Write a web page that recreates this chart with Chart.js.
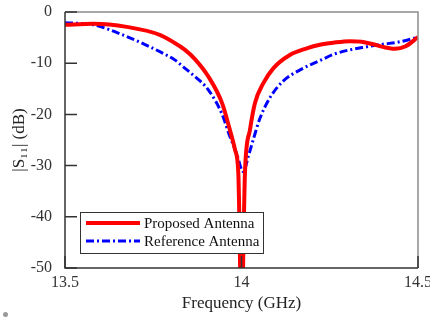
<!DOCTYPE html>
<html>
<head>
<meta charset="utf-8">
<script src="https://cdn.jsdelivr.net/npm/chart.js@4"></script>
<style>
    body { margin: 0; background: #fff; overflow: hidden; }
    #wrap { position: relative; width: 430px; height: 318px; }
    #dot { position: absolute; left: 3px; top: 312px; width: 5px; height: 5px; border-radius: 50%; background: #999; }
</style>
</head>
<body>
<div id="wrap">
    <canvas id="s11Chart" width="430" height="318"></canvas>
    <div id="dot"></div>
</div>
<script>
// frequency points (GHz) and |S11| values (dB)
const freqProposed = [13.50, 13.58, 13.675, 13.77, 13.812, 13.84, 13.868, 13.906, 13.945, 13.967, 13.982, 13.991, 14.00,
    14.01, 14.024, 14.038, 14.062, 14.09, 14.137, 14.185, 14.222, 14.26, 14.307, 14.34, 14.373, 14.405, 14.435, 14.465, 14.50];
const s11Proposed = [-2.5, -2.3, -2.9, -4.5, -6.1, -7.4, -9.2, -12.6, -17.8, -23.0, -27.0, -31.5, -60.0,
    -31.0, -23.0, -17.8, -13.9, -11.0, -8.4, -7.1, -6.4, -6.0, -5.7, -5.8, -6.3, -6.9, -7.2, -6.7, -4.9];

const freqReference = [13.50, 13.58, 13.675, 13.77, 13.812, 13.835, 13.868, 13.906, 13.944, 13.967, 13.986, 14.005,
    14.02, 14.033, 14.051, 14.08, 14.118, 14.166, 14.222, 14.26, 14.30, 14.355, 14.40, 14.45, 14.50];
const s11Reference = [-2.1, -2.5, -4.8, -7.8, -9.4, -10.7, -12.6, -15.2, -19.8, -24.3, -27.6, -31.2,
    -28.0, -25.0, -21.0, -16.8, -13.5, -11.3, -9.5, -8.3, -7.5, -6.8, -6.3, -5.8, -4.9];

const seriesNames = ['Proposed Antenna', 'Reference Antenna'];
const xTicks = [13.5, 14, 14.5];
const yTicks = [0, -10, -20, -30, -40, -50];

const serif = "'Liberation Serif', 'Times New Roman', serif";
const blueDash = [8, 3, 2, 3];

function toPoints(xs, ys) {
    return xs.map((x, i) => ({ x: x, y: ys[i] }));
}

// frame, inward tick marks and the boxed legend
const framePlugin = {
    id: 'frame',
    afterDatasetsDraw(chart) {
        const ctx = chart.ctx;
        const a = chart.chartArea;
        const xs = chart.scales.x, ys = chart.scales.y;
        ctx.save();
        // top and right edges, light grey
        ctx.strokeStyle = '#8c8c8c';
        ctx.lineWidth = 1.5;
        ctx.beginPath();
        ctx.moveTo(a.left, a.top);
        ctx.lineTo(a.right, a.top);
        ctx.lineTo(a.right, a.bottom);
        ctx.stroke();
        // left and bottom axes, dark
        ctx.strokeStyle = '#333';
        ctx.beginPath();
        ctx.moveTo(a.left, a.top);
        ctx.lineTo(a.left, a.bottom);
        ctx.lineTo(a.right, a.bottom);
        ctx.stroke();
        // ticks pointing inwards
        ctx.beginPath();
        yTicks.forEach(v => {
            const y = ys.getPixelForValue(v);
            ctx.moveTo(a.left, y);
            ctx.lineTo(a.left + 12, y);
        });
        xTicks.forEach(v => {
            const x = xs.getPixelForValue(v);
            ctx.moveTo(x, a.bottom);
            ctx.lineTo(x, a.bottom - 12);
        });
        ctx.stroke();

        // legend box
        const lx = a.left + 15, ly = a.top + 200, lw = 183, lh = 41;
        ctx.fillStyle = '#fff';
        ctx.fillRect(lx, ly, lw, lh);
        ctx.strokeStyle = '#333';
        ctx.lineWidth = 1;
        ctx.strokeRect(lx + 0.5, ly + 0.5, lw, lh);
        const rows = [ly + 11, ly + 29];
        chart.data.datasets.forEach((ds, i) => {
            ctx.strokeStyle = ds.borderColor;
            ctx.lineWidth = ds.borderWidth;
            ctx.setLineDash(ds.borderDash || []);
            ctx.beginPath();
            ctx.moveTo(lx + 6, rows[i]);
            ctx.lineTo(lx + 60, rows[i]);
            ctx.stroke();
            ctx.setLineDash([]);
            ctx.fillStyle = '#111';
            ctx.font = '15px ' + serif;
            ctx.textBaseline = 'middle';
            ctx.textAlign = 'left';
            ctx.fillText(seriesNames[i], lx + 64, rows[i] + 1);
        });
        ctx.restore();
    }
};

const ctx = document.getElementById('s11Chart').getContext('2d');
new Chart(ctx, {
    type: 'line',
    data: {
        datasets: [{
            label: seriesNames[0],
            data: toPoints(freqProposed, s11Proposed),
            borderColor: '#ff0000',
            borderWidth: 4,
            pointRadius: 0,
            cubicInterpolationMode: 'monotone',
            fill: false
        }, {
            label: seriesNames[1],
            data: toPoints(freqReference, s11Reference),
            borderColor: '#0000ff',
            borderWidth: 3,
            borderDash: blueDash,
            pointRadius: 0,
            cubicInterpolationMode: 'monotone',
            fill: false
        }]
    },
    options: {
        responsive: false,
        animation: false,
        devicePixelRatio: 1,
        layout: { padding: { top: 12, right: 12, left: 0, bottom: 0 } },
        plugins: {
            legend: { display: false },
            tooltip: { enabled: false }
        },
        scales: {
            x: {
                type: 'linear',
                min: 13.5,
                max: 14.5,
                afterBuildTicks: s => { s.ticks = xTicks.map(v => ({ value: v })); },
                afterFit: s => { s.height = 50; s.paddingLeft = 0; s.paddingRight = 0; },
                grid: { display: false },
                border: { display: false },
                ticks: {
                    color: '#333',
                    padding: -3,
                    maxRotation: 0,
                    font: { family: serif, size: 16 },
                    callback: v => String(v)
                },
                title: {
                    display: true,
                    text: 'Frequency (GHz)',
                    color: '#222',
                    padding: { top: 0, bottom: 4 },
                    font: { family: serif, size: 17 }
                }
            },
            y: {
                min: -50,
                max: 0,
                afterBuildTicks: s => { s.ticks = yTicks.map(v => ({ value: v })); },
                afterFit: s => { s.width = 65; s.paddingTop = 0; s.paddingBottom = 0; },
                grid: { display: false },
                border: { display: false },
                ticks: { color: '#333', padding: 5, font: { family: serif, size: 16 } },
                title: {
                    display: true,
                    text: '|S\u2081\u2081| (dB)',
                    color: '#222',
                    padding: { top: 9, bottom: 0 },
                    font: { family: serif, size: 17 }
                }
            }
        }
    },
    plugins: [framePlugin]
});
</script>
</body>
</html>
